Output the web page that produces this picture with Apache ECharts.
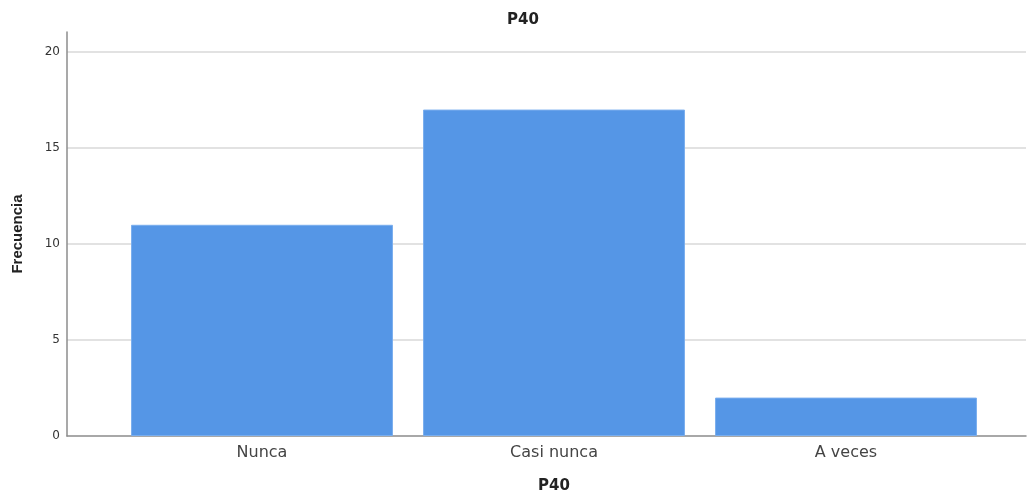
<!DOCTYPE html>
<html><head><meta charset="utf-8">
<script src="https://cdn.jsdelivr.net/npm/echarts@6/dist/echarts.min.js"></script>
<style>html,body{margin:0;padding:0;background:#fff}#c{width:1028px;height:491px}</style>
</head><body><div id="c"></div>
<script>
const categories = ['Nunca', 'Casi nunca', 'A veces'];
const frecuencia = [11, 17, 2];
const yTicks = [0, 5, 10, 15, 20];

const chart = echarts.init(document.getElementById('c'), null, {renderer: 'canvas'});
const yMax = 21.04;
chart.setOption({
  animation: false,
  backgroundColor: '#fff',
  title: {text: 'P40', left: 518, top: 8, textAlign: 'center',
    textStyle: {fontFamily: 'DejaVu Sans', fontWeight: 'bold', fontSize: 15, color: '#222'}},
  grid: [
    {left: 67, right: 2, top: 32, bottom: 55, containLabel: false, outerBoundsMode: 'none'},
    {left: 116, right: 36, top: 32, bottom: 55, containLabel: false, outerBoundsMode: 'none'}
  ],
  xAxis: [
    {type: 'value', gridIndex: 0, min: 0, max: 1, show: true,
      axisLine: {show: true, lineStyle: {color: '#8c8c8c', width: 1.5}},
      axisTick: {show: false}, axisLabel: {show: false}, splitLine: {show: false}},
    {type: 'category', gridIndex: 1, data: categories,
      axisLine: {show: false}, axisTick: {show: false},
      axisLabel: {margin: 9, fontFamily: 'DejaVu Sans', fontSize: 16, color: '#444'},
      name: 'P40', nameLocation: 'middle', nameGap: 43,
      nameTextStyle: {fontFamily: 'DejaVu Sans', fontWeight: 'bold', fontSize: 15, color: '#222'}}
  ],
  yAxis: [
    {type: 'value', gridIndex: 0, min: 0, max: yMax, interval: 5,
      axisLine: {show: true, lineStyle: {color: '#8c8c8c', width: 1.5}},
      axisTick: {show: false},
      axisLabel: {showMaxLabel: false, margin: 7, fontFamily: 'DejaVu Sans', fontSize: 12, color: '#333',
        formatter: v => yTicks.includes(v) ? String(v) : ''},
      splitLine: {show: true, showMinLine: false, showMaxLine: false, lineStyle: {color: '#d9d9d9', width: 1.5}},
      name: 'Frecuencia', nameLocation: 'middle', nameGap: 42, nameRotate: 90,
      nameTextStyle: {fontFamily: 'Liberation Sans', fontWeight: 'bold', fontSize: 15, color: '#222'}},
    {type: 'value', gridIndex: 1, min: 0, max: yMax, show: false, splitLine: {show: false}}
  ],
  series: [{
    type: 'bar', xAxisIndex: 1, yAxisIndex: 1, data: frecuencia,
    barCategoryGap: '10.3%',
    itemStyle: {color: '#5596e6', borderColor: '#7aaeee', borderWidth: 1}
  }]
});
</script></body></html>
